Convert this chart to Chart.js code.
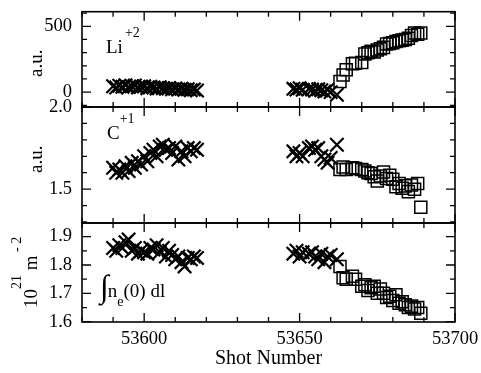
<!DOCTYPE html>
<html><head><meta charset="utf-8">
<script src="https://cdn.jsdelivr.net/npm/chart.js@4/dist/chart.umd.min.js"></script>
<style>
html,body{margin:0;padding:0;background:#fff;}
#wrap{position:relative;width:481px;height:373px;background:#fff;}
.c{position:absolute;left:0;top:0;width:481px;height:373px;}
</style></head><body>
<div id="wrap">
<div class="c"><canvas id="c1" width="481" height="373"></canvas></div>
<div class="c"><canvas id="c2" width="481" height="373"></canvas></div>
<div class="c"><canvas id="c3" width="481" height="373"></canvas></div>
</div>
<script>
// ---- data ----
const crossShots = [53590,53591,53592,53593,53594,53595,53596,53597,53598,53599,53600,53601,53602,53603,53604,53605,53606,53607,53608,53609,53610,53611,53612,53613,53614,53615,53616,53617,
                    53648,53649,53650,53651,53653,53654,53655,53656,53657,53658,53659,53660,53662];
const squareShots = [53663,53664,53665,53667,53668,53670,53671,53672,53673,53674,53675,53676,53677,53678,53679,53680,53681,53682,53683,53684,53685,53686,53687,53688,53689];

const liCross = [45,35,48,40,52,38,45,50,36,42,44,30,40,35,28,38,30,25,32,22,28,20,25,18,22,15,20,12,
                 25,20,30,18,25,20,10,22,15,5,18,0,-20];
const liSquare = [80,130,170,215,220,225,290,300,310,305,320,330,340,365,370,375,385,390,395,400,410,430,450,440,450];

const cCross = [1.63,1.60,1.62,1.60,1.64,1.61,1.66,1.63,1.67,1.65,1.70,1.67,1.72,1.74,1.70,1.76,1.77,1.74,1.75,1.72,1.76,1.68,1.73,1.70,1.75,1.73,1.75,1.74,
                1.73,1.70,1.72,1.70,1.75,1.76,1.74,1.75,1.70,1.68,1.66,1.69,1.77];
const cSquare = [1.62,1.635,1.62,1.63,1.625,1.62,1.61,1.60,1.595,1.575,1.55,1.58,1.605,1.565,1.585,1.56,1.515,1.535,1.505,1.52,1.485,1.525,1.50,1.535,1.39];

const neCross = [1.86,1.85,1.87,1.86,1.88,1.89,1.85,1.86,1.84,1.85,1.845,1.84,1.86,1.855,1.87,1.845,1.86,1.83,1.85,1.835,1.82,1.83,1.81,1.795,1.825,1.82,1.83,1.825,
                 1.84,1.85,1.83,1.845,1.84,1.845,1.83,1.82,1.84,1.81,1.83,1.835,1.82];
const neSquare = [1.795,1.755,1.75,1.76,1.75,1.725,1.73,1.71,1.72,1.725,1.70,1.715,1.70,1.685,1.69,1.675,1.695,1.665,1.67,1.66,1.65,1.655,1.645,1.65,1.63];

const xTicks = [53580,53590,53600,53610,53620,53630,53640,53650,53660,53670,53680,53690,53700];
const xLabels = [53600,53650,53700];
const liTicks = [-100,0,100,200,300,400,500,600];
const liLabels = [0,500];
const cTicks = [1.3,1.4,1.5,1.6,1.7,1.8,1.9,2.0];
const cLabels = [1.5,2.0];
const neTicks = [1.6,1.65,1.7,1.75,1.8,1.85,1.9];
const neLabels = [1.6,1.7,1.8,1.9];

// ---- helpers ----
const SERIF = '"Liberation Serif","Times New Roman",serif';
const near = (a,b) => Math.abs(a-b) < 1e-6;
const pts = (xs, ys) => xs.map((x,i) => ({x, y: ys[i]}));

function drawRich(ctx, x, y, pieces, rot) {
  ctx.save();
  ctx.translate(x, y);
  if (rot) ctx.rotate(-Math.PI/2);
  ctx.fillStyle = '#000';
  ctx.textBaseline = 'alphabetic';
  ctx.textAlign = 'left';
  let a = 0;
  for (const p of pieces) {
    ctx.font = p.size + 'px ' + SERIF;
    a += (p.gap || 0);
    ctx.fillText(p.t, a, p.dy || 0);
    a += ctx.measureText(p.t).width;
  }
  ctx.restore();
}

function framePlugin(yTicks, yLabels, deco) {
  return {
    id: 'frame',
    afterDatasetsDraw(chart) {
      const ctx = chart.ctx, a = chart.chartArea;
      const xs = chart.scales.x, ys = chart.scales.y;
      ctx.save();
      ctx.strokeStyle = '#000';
      ctx.lineWidth = 1.6;
      ctx.strokeRect(a.left, a.top, a.right - a.left, a.bottom - a.top);
      ctx.lineWidth = 1.3;
      ctx.beginPath();
      for (const v of xTicks) {
        const px = xs.getPixelForValue(v);
        const len = xLabels.some(l => near(l, v)) ? 9 : 5;
        ctx.moveTo(px, a.top); ctx.lineTo(px, a.top + len);
        ctx.moveTo(px, a.bottom); ctx.lineTo(px, a.bottom - len);
      }
      for (const v of yTicks) {
        const py = ys.getPixelForValue(v);
        if (py < a.top - 0.5 || py > a.bottom + 0.5) continue;
        const len = yLabels.some(l => near(l, v)) ? 9 : 5;
        ctx.moveTo(a.left, py); ctx.lineTo(a.left + len, py);
        ctx.moveTo(a.right, py); ctx.lineTo(a.right - len, py);
      }
      ctx.stroke();
      ctx.restore();
      deco(ctx);
    }
  };
}

function makeChart(id, crossVals, squareVals, y, yTicks, yLabels, pad, showX, deco) {
  const cfg = {
    type: 'scatter',
    data: {
      datasets: [
        { data: pts(crossShots, crossVals), pointStyle: 'crossRot', pointRadius: 9.5, pointHoverRadius: 9.5,
          borderColor: '#000', borderWidth: 2.2, backgroundColor: 'rgba(0,0,0,0)' },
        { data: pts(squareShots, squareVals), pointStyle: 'rect', pointRadius: 8.5, pointHoverRadius: 8.5,
          borderColor: '#000', borderWidth: 1.5, backgroundColor: 'rgba(0,0,0,0)' }
      ]
    },
    options: {
      responsive: false, animation: false, devicePixelRatio: 1,
      layout: { padding: pad },
      plugins: { legend: { display: false }, tooltip: { enabled: false } },
      scales: {
        x: {
          type: 'linear', min: 53580, max: 53700, display: showX,
          grid: { display: false, drawTicks: false },
          border: { display: false },
          afterBuildTicks: s => { s.ticks = xTicks.map(v => ({ value: v })); },
          ticks: {
            autoSkip: false, maxRotation: 0, padding: 6, color: '#000',
            font: { family: SERIF, size: 18.5 },
            callback: v => xLabels.some(l => near(l, v)) ? String(v) : ''
          },
          title: { display: showX, text: 'Shot Number', color: '#000', font: { family: SERIF, size: 20 }, padding: { top: 0, bottom: 2 } },
          afterFit: s => { if (showX) s.height = 51; s.paddingLeft = 0; s.paddingRight = 0; }
        },
        y: {
          type: 'linear', min: y[0], max: y[1],
          grid: { display: false, drawTicks: false },
          border: { display: false },
          afterBuildTicks: s => { s.ticks = yTicks.map(v => ({ value: v })); },
          ticks: {
            autoSkip: false, padding: 10, color: '#000',
            font: { family: SERIF, size: 18.5 },
            callback: v => {
              const l = yLabels.find(q => near(q, v));
              if (l === undefined) return '';
              return (yLabels === cLabels) ? l.toFixed(1) : String(l);
            }
          },
          afterFit: s => { s.width = 82; s.paddingTop = 0; s.paddingBottom = 0; }
        }
      }
    },
    plugins: [framePlugin(yTicks, yLabels, deco)]
  };
  return new Chart(document.getElementById(id), cfg);
}

makeChart('c1', liCross, liSquare, [-113, 611], liTicks, liLabels,
  { left: 0, top: 9, right: 26, bottom: 266 }, false, ctx => {
    drawRich(ctx, 42, 77, [{ t: 'a.u.', size: 19 }], true);
    drawRich(ctx, 106, 53, [{ t: 'Li', size: 19 }, { t: '+2', size: 14, dy: -16, gap: 2 }], false);
  });

makeChart('c2', cCross, cSquare, [1.294, 2.0], cTicks, cLabels,
  { left: 0, top: 107, right: 26, bottom: 150 }, false, ctx => {
    drawRich(ctx, 42, 173, [{ t: 'a.u.', size: 19 }], true);
    drawRich(ctx, 107, 139, [{ t: 'C', size: 19 }, { t: '+1', size: 14, dy: -16 }], false);
  });

makeChart('c3', neCross, neSquare, [1.599, 1.948], neTicks, neLabels,
  { left: 0, top: 223, right: 26, bottom: 0 }, true, ctx => {
    drawRich(ctx, 37, 308, [
      { t: '10', size: 19 }, { t: '21', size: 14, dy: -16 },
      { t: ' m', size: 19 }, { t: ' - 2', size: 14, dy: -16 }
    ], true);
    drawRich(ctx, 100, 297, [
      { t: '\u222B', size: 32 }, { t: 'n', size: 19, gap: -1 }, { t: 'e', size: 14, dy: 9 }, { t: '(0) dl', size: 19 }
    ], false);
  });
</script>
</body></html>
